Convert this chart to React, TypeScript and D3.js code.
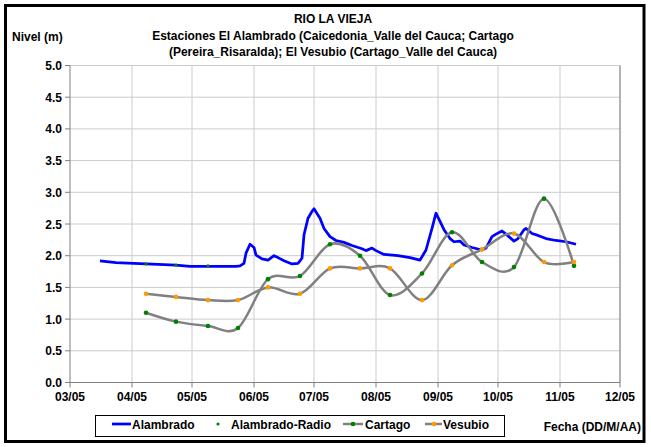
import React from "react";
import * as d3 from "d3";

const parse = d3.timeParse("%Y-%m-%d");

// Alambrado (continuous, blue)
const alambradoDates = [
  "2005-03-16","2005-03-24","2005-04-08","2005-04-23","2005-04-30","2005-05-08","2005-05-23","2005-05-25",
  "2005-05-27","2005-05-28","2005-05-30","2005-06-01","2005-06-02","2005-06-05","2005-06-08","2005-06-11",
  "2005-06-13","2005-06-16","2005-06-20","2005-06-23","2005-06-25","2005-06-26","2005-06-28","2005-06-30",
  "2005-07-01","2005-07-04","2005-07-06","2005-07-09","2005-07-12","2005-07-16","2005-07-20","2005-07-25",
  "2005-07-27","2005-07-30","2005-08-01","2005-08-05","2005-08-12","2005-08-18","2005-08-23","2005-08-26",
  "2005-08-29","2005-08-31","2005-09-02","2005-09-04","2005-09-07","2005-09-09","2005-09-12","2005-09-14",
  "2005-09-18","2005-09-23","2005-09-25","2005-09-28","2005-09-30","2005-10-03","2005-10-05","2005-10-09",
  "2005-10-11","2005-10-14","2005-10-15","2005-10-18","2005-10-21","2005-10-25","2005-10-30","2005-11-04",
  "2005-11-09"
];
const alambradoValues = [
  1.92,1.89,1.87,1.85,1.83,1.83,1.83,1.84,
  1.88,2.04,2.18,2.13,2.01,1.95,1.93,2.00,
  1.97,1.92,1.87,1.88,1.96,2.33,2.59,2.70,
  2.74,2.59,2.43,2.30,2.24,2.21,2.16,2.11,
  2.08,2.12,2.08,2.02,2.00,1.97,1.93,2.09,
  2.43,2.67,2.54,2.41,2.27,2.22,2.23,2.17,
  2.13,2.09,2.12,2.30,2.34,2.39,2.34,2.23,
  2.27,2.41,2.43,2.35,2.32,2.27,2.24,2.22,
  2.18
];

// Alambrado-Radio (points)
const radioDates = ["2005-04-08","2005-04-23","2005-05-09"];
const radioValues = [1.87, 1.85, 1.84];

// Cartago & Vesubio (sampled)
const sampleDates = [
  "2005-04-08","2005-04-23","2005-05-09","2005-05-24","2005-06-08","2005-06-24","2005-07-09","2005-07-24",
  "2005-08-08","2005-08-24","2005-09-08","2005-09-23","2005-10-09","2005-10-24","2005-11-08"
];
const cartagoValues = [1.10,0.96,0.89,0.86,1.63,1.68,2.18,2.00,1.38,1.72,2.37,1.90,1.82,2.90,1.84];
const vesubioValues = [1.40,1.35,1.30,1.30,1.50,1.40,1.80,1.80,1.80,1.30,1.85,2.10,2.35,1.90,1.90];

const xTickDates = ["2005-03-01","2005-04-01","2005-05-01","2005-06-01","2005-07-01","2005-08-01","2005-09-01","2005-10-01","2005-11-01","2005-12-01"];
const xTickLabels = ["03/05","04/05","05/05","06/05","07/05","08/05","09/05","10/05","11/05","12/05"];
const yTicks = [0,0.5,1,1.5,2,2.5,3,3.5,4,4.5,5];

const titleLines = [
  "RIO LA VIEJA",
  "Estaciones El Alambrado (Caicedonia_Valle del Cauca; Cartago",
  "(Pereira_Risaralda);  El Vesubio (Cartago_Valle del Cauca)",
];

type P = { d: Date; v: number };

export default function App() {
  const W = 651, H = 447;
  const L = 70, R = 620, T = 65.5, B = 382.5;
  const x = d3.scaleTime().domain([parse("2005-03-01")!, parse("2005-12-01")!]).range([L, R]);
  const y = d3.scaleLinear().domain([0, 5]).range([B, T]);

  const mk = (ds: string[], vs: number[]): P[] => ds.map((s, i) => ({ d: parse(s)!, v: vs[i] }));
  const alam = mk(alambradoDates, alambradoValues);
  const radio = mk(radioDates, radioValues);
  const cart = mk(sampleDates, cartagoValues);
  const vesu = mk(sampleDates, vesubioValues);

  const lineLin = d3.line<P>().x(p => x(p.d)).y(p => y(p.v));
  const lineSmooth = d3.line<P>().x(p => x(p.d)).y(p => y(p.v)).curve(d3.curveCardinal.tension(0));

  const font = "'Liberation Sans', Arial, sans-serif";
  const grid = "#cccccc";
  const axis = "#808080";
  const green = "#008000";
  const orange = "#FF9900";
  const gray = "#808080";

  const legY = 424;

  return (
    <svg width={W} height={H} style={{ position: "absolute", left: 0, top: 0, background: "#fff" }}
      fontFamily={font} fontWeight="bold" fontSize={12}>
      <rect x={0} y={0} width={W} height={H} fill="#fff" />
      <rect x={5.5} y={5.5} width={638.5} height={436} fill="none" stroke="#000" strokeWidth={3} />

      {/* gridlines */}
      {yTicks.map(t => (
        <line key={"gy" + t} x1={L} x2={R} y1={y(t)} y2={y(t)} stroke={grid} strokeWidth={1} />
      ))}
      {xTickDates.slice(1).map(s => (
        <line key={"gx" + s} x1={x(parse(s)!)} x2={x(parse(s)!)} y1={T} y2={B} stroke={grid} strokeWidth={1} />
      ))}
      <line x1={R} x2={R} y1={T} y2={B} stroke={axis} strokeWidth={1} />

      {/* axes */}
      <line x1={L} x2={L} y1={T} y2={B} stroke={axis} strokeWidth={1} />
      <line x1={L} x2={R} y1={B} y2={B} stroke={axis} strokeWidth={1} />
      {yTicks.map(t => (
        <g key={"ty" + t}>
          <line x1={L - 5} x2={L} y1={y(t)} y2={y(t)} stroke={axis} />
          <text x={L - 8} y={y(t) + 4.5} textAnchor="end" fill="#000">{t.toFixed(1)}</text>
        </g>
      ))}
      {xTickDates.map((s, i) => (
        <g key={"tx" + s}>
          <line x1={x(parse(s)!)} x2={x(parse(s)!)} y1={B} y2={B + 5} stroke={axis} />
          <text x={x(parse(s)!)} y={B + 18} textAnchor="middle" fill="#000">{xTickLabels[i]}</text>
        </g>
      ))}

      {/* series */}
      <path d={lineLin(alam)!} fill="none" stroke="#0000FF" strokeWidth={2.75} strokeLinejoin="round" />
      {radio.map((p, i) => (
        <circle key={"r" + i} cx={x(p.d)} cy={y(p.v)} r={1.6} fill={green} />
      ))}
      <path d={lineSmooth(cart)!} fill="none" stroke={gray} strokeWidth={2.5} />
      {cart.map((p, i) => (
        <circle key={"c" + i} cx={x(p.d)} cy={y(p.v)} r={2.3} fill={green} />
      ))}
      <path d={lineSmooth(vesu)!} fill="none" stroke={gray} strokeWidth={2.5} />
      {vesu.map((p, i) => (
        <circle key={"v" + i} cx={x(p.d)} cy={y(p.v)} r={2.3} fill={orange} />
      ))}

      {/* titles */}
      <text x={333} y={23} textAnchor="middle">{titleLines[0]}</text>
      <text x={333} y={40} textAnchor="middle">{titleLines[1]}</text>
      <text x={333} y={56} textAnchor="middle">{titleLines[2]}</text>
      <text x={12} y={41}>Nivel (m)</text>
      <text x={641} y={431} textAnchor="end">Fecha (DD/M/AA)</text>

      {/* legend */}
      <rect x={95.5} y={415.5} width={409} height={21} fill="#fff" stroke="#000" strokeWidth={1} />
      <line x1={112} x2={131} y1={legY} y2={legY} stroke="#0000FF" strokeWidth={2.75} />
      <text x={132} y={legY + 5}>Alambrado</text>
      <circle cx={218} cy={legY} r={1.6} fill={green} />
      <text x={231} y={legY + 5}>Alambrado-Radio</text>
      <line x1={343} x2={363} y1={legY} y2={legY} stroke={gray} strokeWidth={2.5} />
      <circle cx={353} cy={legY} r={2.3} fill={green} />
      <text x={365} y={legY + 5}>Cartago</text>
      <line x1={425} x2={442} y1={legY} y2={legY} stroke={gray} strokeWidth={2.5} />
      <circle cx={434} cy={legY} r={2.3} fill={orange} />
      <text x={443} y={legY + 5}>Vesubio</text>
    </svg>
  );
}
